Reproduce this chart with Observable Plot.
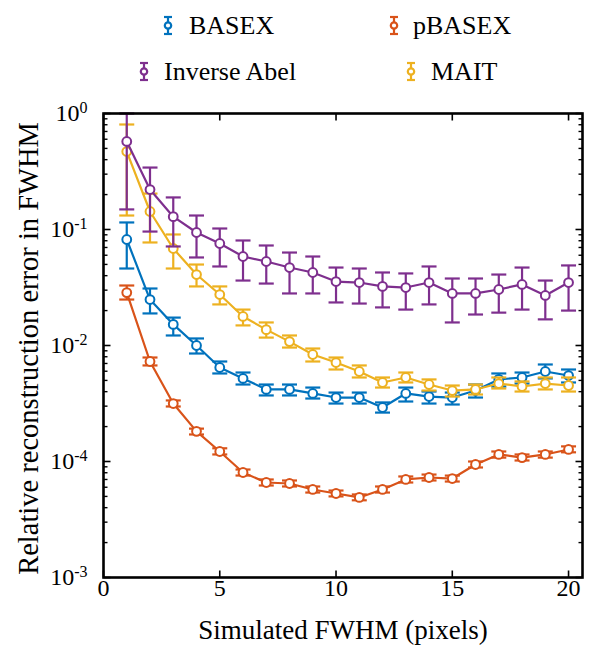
<!DOCTYPE html>
<html><head><meta charset="utf-8">
<script src="https://cdn.jsdelivr.net/npm/d3@7"></script>
<script src="https://cdn.jsdelivr.net/npm/@observablehq/plot@0.6"></script>
<style>
body{margin:0;background:#fff;}
#wrap{position:relative;width:589px;height:652px;}
#legend{position:absolute;left:0;top:0;}
</style></head><body>
<div id="wrap"><div id="chart"></div><svg id="legend" width="589" height="95"></svg></div>
<script>
// ---- data ----
const fwhm = [1,2,3,4,5,6,7,8,9,10,11,12,13,14,15,16,17,18,19,20];

const basex   = [0.082,0.0249,0.0152,0.0100,0.00646,0.0052,0.00418,0.00418,0.00386,0.00356,0.00356,0.00292,0.00386,0.00363,0.00356,0.00409,0.0051,0.0053,0.00597,0.00551];
const basexLo = [0.0461,0.0189,0.0122,0.00853,0.00574,0.00461,0.00371,0.00371,0.00349,0.00316,0.00316,0.00264,0.00329,0.00316,0.0031,0.00356,0.00443,0.0047,0.0052,0.0048];
const basexHi = [0.115,0.031,0.0174,0.0115,0.00728,0.00585,0.00461,0.00461,0.00434,0.00393,0.00393,0.00323,0.00434,0.00401,0.00393,0.00461,0.00574,0.00585,0.00686,0.00621];

const pbasex   = [0.0286,0.00728,0.00316,0.00182,0.00122,0.000804,0.000659,0.000646,0.000574,0.00053,0.00049,0.000574,0.0007,0.000728,0.000713,0.000942,0.00115,0.00108,0.00115,0.00127];
const pbasexLo = [0.0249,0.00673,0.00298,0.00171,0.00115,0.000757,0.000621,0.000609,0.00054,0.0005,0.000463,0.00054,0.000659,0.000686,0.000672,0.000888,0.00108,0.00102,0.00108,0.0012];
const pbasexHi = [0.0329,0.00788,0.00336,0.00192,0.0013,0.000853,0.0007,0.000686,0.000609,0.000562,0.00052,0.000609,0.000743,0.000772,0.000756,0.001,0.00122,0.00115,0.00122,0.00135];

const abel   = [0.574,0.221,0.129,0.0942,0.0757,0.0585,0.053,0.047,0.0426,0.0356,0.0349,0.0323,0.0316,0.0349,0.0281,0.0281,0.0304,0.0336,0.027,0.0349];
const abelLo = [0.149,0.096,0.0714,0.0574,0.048,0.0363,0.0342,0.0281,0.0281,0.0235,0.023,0.0213,0.0204,0.0226,0.0158,0.0185,0.0192,0.0204,0.0168,0.02];
const abelHi = [1.0,0.342,0.189,0.132,0.102,0.0804,0.0728,0.0633,0.0585,0.047,0.0461,0.0426,0.0418,0.048,0.0378,0.0378,0.0409,0.047,0.0363,0.049];

const mait   = [0.47,0.143,0.0686,0.0409,0.0275,0.0178,0.0137,0.0108,0.00836,0.00713,0.00597,0.0048,0.0053,0.00461,0.00409,0.00418,0.0047,0.00443,0.0047,0.00452];
const maitLo = [0.132,0.0773,0.0461,0.0323,0.0226,0.0149,0.0117,0.0096,0.00728,0.00621,0.0053,0.00434,0.0048,0.00409,0.00363,0.00378,0.00426,0.00401,0.00418,0.00401];
const maitHi = [0.804,0.204,0.0906,0.0499,0.0323,0.0204,0.0158,0.0122,0.00942,0.00788,0.00673,0.0053,0.00585,0.0051,0.00452,0.00461,0.0053,0.0049,0.0053,0.0053];

const seriesNames  = ["BASEX","pBASEX","Inverse Abel","MAIT"];
const seriesColors = ["#0072BD","#D95319","#7E2F8E","#EDB120"];

const xTicks = [0,5,10,15,20];
const xTickLabels = ["0","5","10","15","20"];
const yTicks = [1,0.1,0.01,0.001,0.0001];
const yTickLabels = ["10^0","10^-1","10^-2","10^-4","10^-3"];
const xTitle = "Simulated FWHM (pixels)";
const yTitle = "Relative reconstruction error in FWHM";

// ---- build tables ----
const seriesData = [
  {name: seriesNames[0], color: seriesColors[0], v: basex, lo: basexLo, hi: basexHi},
  {name: seriesNames[1], color: seriesColors[1], v: pbasex, lo: pbasexLo, hi: pbasexHi},
  {name: seriesNames[3], color: seriesColors[3], v: mait, lo: maitLo, hi: maitHi},
  {name: seriesNames[2], color: seriesColors[2], v: abel, lo: abelLo, hi: abelHi}
];
const minorTicks = [];
for (const d of [1e-4,1e-3,1e-2,1e-1]) for (let k = 2; k <= 9; k++) minorTicks.push(d * k);

// custom symbols (pixel-sized line segments)
const rad = s => Math.sqrt(s / Math.PI);
const capSym   = {draw(c, s){ const r = rad(s); c.moveTo(-r,0); c.lineTo(r,0); }};
const tickUp   = {draw(c, s){ const r = rad(s); c.moveTo(0,0); c.lineTo(0,-r); }};
const tickDown = {draw(c, s){ const r = rad(s); c.moveTo(0,0); c.lineTo(0,r); }};
const tickRight= {draw(c, s){ const r = rad(s); c.moveTo(0,0); c.lineTo(r,0); }};
const tickLeft = {draw(c, s){ const r = rad(s); c.moveTo(0,0); c.lineTo(-r,0); }};

const marks = [];
for (const s of seriesData) {
  const rows = fwhm.map((x, i) => ({x, v: s.v[i], lo: s.lo[i], hi: s.hi[i]}));
  marks.push(
    Plot.line(rows, {x: "x", y: "v", stroke: s.color, strokeWidth: 2.2}),
    Plot.ruleX(rows, {x: "x", y1: "lo", y2: "hi", stroke: s.color, strokeWidth: 2.2}),
    Plot.dot(rows, {x: "x", y: "lo", symbol: capSym, r: 7.5, stroke: s.color, fill: "none", strokeWidth: 2.2}),
    Plot.dot(rows, {x: "x", y: "hi", symbol: capSym, r: 7.5, stroke: s.color, fill: "none", strokeWidth: 2.2}),
    Plot.dot(rows, {x: "x", y: "v", r: 4.4, stroke: s.color, fill: "white", strokeWidth: 2})
  );
}
// axis ticks (inward, MATLAB style)
marks.push(
  Plot.dot(xTicks, {x: d => d, frameAnchor: "bottom", symbol: tickUp, r: 7, stroke: "black", fill: "none", strokeWidth: 1.6}),
  Plot.dot(xTicks, {x: d => d, frameAnchor: "top", symbol: tickDown, r: 7, stroke: "black", fill: "none", strokeWidth: 1.6}),
  Plot.dot(yTicks, {y: d => d, frameAnchor: "left", symbol: tickRight, r: 7, stroke: "black", fill: "none", strokeWidth: 1.6}),
  Plot.dot(yTicks, {y: d => d, frameAnchor: "right", symbol: tickLeft, r: 7, stroke: "black", fill: "none", strokeWidth: 1.6}),
  Plot.dot(minorTicks, {y: d => d, frameAnchor: "left", symbol: tickRight, r: 4, stroke: "black", fill: "none", strokeWidth: 1.4}),
  Plot.dot(minorTicks, {y: d => d, frameAnchor: "right", symbol: tickLeft, r: 4, stroke: "black", fill: "none", strokeWidth: 1.4}),
  Plot.text(xTicks, {x: d => d, text: (d, i) => xTickLabels[i], frameAnchor: "bottom", dy: 18, fontSize: 24, fill: "black"}),
  Plot.text(yTicks, {y: d => d, text: (d, i) => yTickLabels[i], frameAnchor: "left", textAnchor: "end", dx: -16, fontSize: 24, fill: "black"}),
  Plot.text([xTitle], {text: d => d, frameAnchor: "bottom", textAnchor: "middle", dy: 61, fontSize: 27, fill: "black"}),
  Plot.text([yTitle], {text: d => d, frameAnchor: "left", textAnchor: "middle", rotate: -90, dx: -75, dy: 3, fontSize: 28.5, fill: "black"}),
  Plot.frame({stroke: "black", strokeWidth: 2.6})
);

const chart = Plot.plot({
  width: 589,
  height: 652,
  marginTop: 113,
  marginBottom: 75,
  marginLeft: 103,
  marginRight: 7,
  style: {fontFamily: "'Liberation Serif','Times New Roman',serif", background: "white", color: "black"},
  x: {domain: [0, 20.6], axis: null},
  y: {type: "log", domain: [1e-4, 1], axis: null},
  marks
});

// superscripts for the log tick labels
for (const t of chart.querySelectorAll("text")) {
  const m = t.textContent.match(/^10\^(.+)$/);
  if (!m) continue;
  t.textContent = "";
  const ns = "http://www.w3.org/2000/svg";
  const b = document.createElementNS(ns, "tspan"); b.textContent = "10"; t.appendChild(b);
  const e = document.createElementNS(ns, "tspan"); e.textContent = m[1];
  e.setAttribute("dy", "-0.5em"); e.setAttribute("font-size", "16"); t.appendChild(e);
}
document.getElementById("chart").appendChild(chart);

// ---- legend ----
const legendItems = [
  {name: seriesNames[0], color: seriesColors[0], icon: 168, text: 189, base: 34},
  {name: seriesNames[1], color: seriesColors[1], icon: 394, text: 413, base: 34},
  {name: seriesNames[2], color: seriesColors[2], icon: 144, text: 164, base: 80},
  {name: seriesNames[3], color: seriesColors[3], icon: 411, text: 431, base: 80}
];
const lg = d3.select("#legend");
for (const it of legendItems) {
  const g = lg.append("g").attr("stroke", it.color).attr("stroke-width", 2.2).attr("fill", "none");
  const top = it.base - 17, bot = it.base;
  g.append("line").attr("x1", it.icon).attr("x2", it.icon).attr("y1", top).attr("y2", bot);
  g.append("line").attr("x1", it.icon - 4).attr("x2", it.icon + 4).attr("y1", top).attr("y2", top);
  g.append("line").attr("x1", it.icon - 4).attr("x2", it.icon + 4).attr("y1", bot).attr("y2", bot);
  g.append("circle").attr("cx", it.icon).attr("cy", (top + bot) / 2).attr("r", 3.2).attr("fill", "white");
  lg.append("text").attr("x", it.text).attr("y", it.base)
    .attr("font-family", "'Liberation Serif','Times New Roman',serif").attr("font-size", 26).attr("fill", "black")
    .text(it.name);
}
</script></body></html>
